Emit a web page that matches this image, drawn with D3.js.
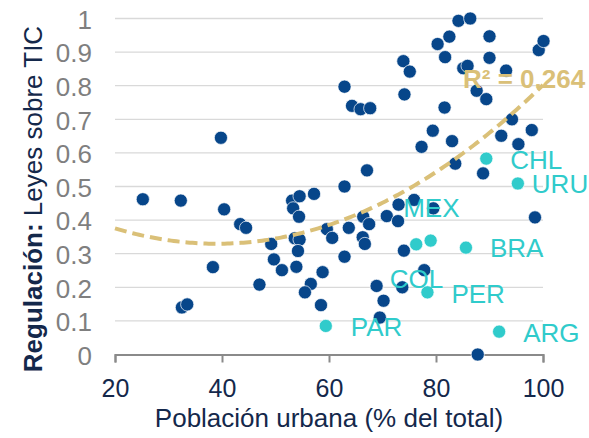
<!DOCTYPE html>
<html><head><meta charset="utf-8">
<script src="https://cdn.jsdelivr.net/npm/d3@7"></script>
<style>
body{margin:0;background:#fff}
svg text{font-family:"Liberation Sans",Arial,sans-serif}
</style>
</head><body>
<svg id="chart" width="589" height="438"></svg>
<script>
// ---- data ----
const urbanX = [25.2,32.3,32.5,33.5,39.8,38.3,40.4,43.4,44.5,47.0,49.2,49.7,51.2,53.1,54.5,53.3,54.4,57.2,62.9,53.6,
  54.5,54.2,53.9,58.8,56.6,55.5,58.5,59.6,60.6,63.7,62.9,66.4,67.5,66.3,66.7,70.8,72.9,73.0,75.9,79.5,
  98.5,74.0,77.8,68.9,73.7,70.2,69.5,87.8,62.9,64.3,65.9,67.7,73.9,75.1,74.1,80.3,82.5,84.2,86.4,81.7,
  90.0,90.0,85.1,85.9,87.6,89.4,93.1,81.6,99.2,100.1,94.2,79.4,77.3,83.0,92.2,95.4,97.9,83.6,88.8,67.1];
const ticLaws = [0.462,0.458,0.140,0.149,0.645,0.260,0.432,0.388,0.377,0.208,0.329,0.283,0.251,0.458,0.471,0.435,0.410,0.478,0.500,0.346,
  0.342,0.308,0.261,0.245,0.210,0.185,0.147,0.373,0.347,0.377,0.291,0.410,0.388,0.349,0.329,0.412,0.397,0.446,0.460,0.435,
  0.408,0.309,0.251,0.204,0.200,0.160,0.110,0.000,0.797,0.740,0.730,0.733,0.873,0.842,0.774,0.924,0.946,0.993,1.000,0.885,
  0.947,0.883,0.852,0.859,0.785,0.760,0.845,0.735,0.906,0.933,0.700,0.666,0.618,0.635,0.651,0.626,0.668,0.568,0.539,0.548];

const latamCodes = ["CHL","URU","MEX","COL","BRA","PER","PAR","ARG"];
const latamX = [89.4,95.3,76.3,79.0,85.6,78.4,59.4,91.8];
const latamY = [0.583,0.509,0.328,0.339,0.318,0.185,0.085,0.068];

const xTicks = [20,40,60,80,100];
const yTicks = [0,0.1,0.2,0.3,0.4,0.5,0.6,0.7,0.8,0.9,1];
const yTickLabels = ["0","0.1","0.2","0.3","0.4","0.5","0.6","0.7","0.8","0.9","1"];
// polynomial trendline (order 2): y = c0 + c1*x + c2*x^2
const trendCoef = [0.523,-0.00991,0.000127];
const trendRange = [20,100];
const r2Text = "R² = 0.264";
const xTitle = "Población urbana (% del total)";
const yTitleBold = "Regulación:";
const yTitleRest = " Leyes sobre TIC";

// ---- layout / style ----
const labelOffsets = {CHL:[24,10],URU:[14,10],MEX:[-13,-27],COL:[-41,47],BRA:[24,9],PER:[24,11],PAR:[25,10],ARG:[24,10]};
const C = {dark:"#07468a", teal:"#30cbcb", gold:"#dac078", grid:"#d9d9d9", axis:"#8a8a8a", navy:"#14284b", tick:"#7f7f7f"};

const svg = d3.select("#chart");
const x = d3.scaleLinear().domain([20,100]).range([115,543]);
const y = d3.scaleLinear().domain([0,1]).range([354.5,18.5]);

// gridlines
svg.append("g").selectAll("line").data(yTicks.filter(d=>d>0)).join("line")
  .attr("x1",x(20)).attr("x2",x(100)).attr("y1",d=>y(d)).attr("y2",d=>y(d))
  .attr("stroke",C.grid).attr("stroke-width",1.3);

// y axis labels
const yAxis = svg.append("g").attr("transform",`translate(${x(20)},0)`)
  .call(d3.axisLeft(y).tickValues(yTicks).tickSize(0).tickPadding(23)
    .tickFormat((d,i)=>yTickLabels[i]));
yAxis.select(".domain").remove();
yAxis.selectAll("text").attr("fill",C.tick).style("font-size","26px").attr("dy","0.38em");

// x axis
const xAxis = svg.append("g").attr("transform",`translate(0,${y(0)})`)
  .call(d3.axisBottom(x).tickValues(xTicks).tickSize(8).tickPadding(17).tickSizeOuter(8));
xAxis.select(".domain").attr("stroke",C.axis).attr("stroke-width",2);
xAxis.selectAll(".tick line").attr("stroke",C.axis).attr("stroke-width",2);
xAxis.selectAll("text").attr("fill",C.navy).style("font-size","25px");

// points
const darkPts = urbanX.map((v,i)=>({x:v,y:ticLaws[i]}));
svg.append("g").selectAll("circle").data(darkPts).join("circle")
  .attr("cx",d=>x(d.x)).attr("cy",d=>y(d.y)).attr("r",6.6)
  .attr("fill",C.dark).attr("stroke","#fff").attr("stroke-width",0.7);

const latam = latamCodes.map((c,i)=>({code:c,x:latamX[i],y:latamY[i]}));
svg.append("g").selectAll("circle").data(latam).join("circle")
  .attr("cx",d=>x(d.x)).attr("cy",d=>y(d.y)).attr("r",6.6)
  .attr("fill",C.teal).attr("stroke","#fff").attr("stroke-width",0.7);

// trendline
const tx = d3.range(trendRange[0], trendRange[1]+0.01, 0.5);
const line = d3.line().x(d=>x(d)).y(d=>y(trendCoef[0]+trendCoef[1]*d+trendCoef[2]*d*d));
svg.append("path").datum(tx).attr("d",line).attr("fill","none")
  .attr("stroke",C.gold).attr("stroke-width",4).attr("stroke-dasharray","12,6");

// labels
svg.append("g").selectAll("text").data(latam).join("text")
  .attr("x",d=>x(d.x)+labelOffsets[d.code][0]).attr("y",d=>y(d.y)+labelOffsets[d.code][1])
  .attr("fill",C.teal).style("font-size","26px").text(d=>d.code);

svg.append("text").attr("x",463).attr("y",88).attr("fill",C.gold)
  .style("font-size","26px").style("font-weight","bold").text(r2Text);

// titles
svg.append("text").attr("x",329).attr("y",427).attr("text-anchor","middle")
  .attr("fill",C.navy).style("font-size","26px").text(xTitle);

const yt = svg.append("text").attr("transform","translate(41.5,199) rotate(-90)")
  .attr("text-anchor","middle").attr("fill",C.navy).style("font-size","26px");
yt.append("tspan").style("font-weight","bold").text(yTitleBold);
yt.append("tspan").text(yTitleRest);
</script>
</body></html>
